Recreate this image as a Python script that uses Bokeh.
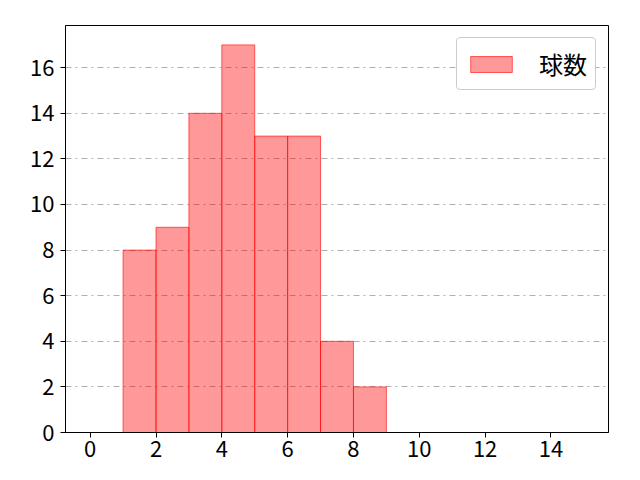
from bokeh.plotting import figure
from bokeh.models import FixedTicker, Range1d, Legend, LegendItem
from bokeh.embed import file_html
from bokeh.resources import INLINE

bin_left = [1, 2, 3, 4, 5, 6, 7, 8]
bin_right = [2, 3, 4, 5, 6, 7, 8, 9]
counts = [8, 9, 14, 17, 13, 13, 4, 2]
x_ticks = [0, 2, 4, 6, 8, 10, 12, 14]
y_ticks = [0, 2, 4, 6, 8, 10, 12, 14, 16]
label = "球数"

font = "Noto Sans CJK JP"

p = figure(width=640, height=480, output_backend="svg", toolbar_location=None,
           x_range=Range1d(-0.75, 15.75), y_range=Range1d(0, 17.85),
           min_border_left=65, min_border_right=32, min_border_top=25, min_border_bottom=48)

r = p.quad(left=bin_left, right=bin_right, bottom=0, top=counts,
           fill_color="red", fill_alpha=0.4, line_color="red", line_alpha=0.6, line_width=1)

p.xgrid.visible = False
p.ygrid.ticker = FixedTicker(ticks=y_ticks)
p.ygrid.grid_line_color = "#b0b0b0"
p.ygrid.grid_line_dash = "dashdot"
p.ygrid.grid_line_width = 1

p.xaxis.ticker = FixedTicker(ticks=x_ticks)
p.yaxis.ticker = FixedTicker(ticks=y_ticks)
for ax in (p.xaxis, p.yaxis):
    ax.major_label_text_font = font
    ax.major_label_text_font_size = "22px"
    ax.major_label_text_color = "black"
    ax.major_tick_out = 5
    ax.major_tick_in = 0
    ax.minor_tick_line_color = None
    ax.axis_line_color = "black"
    ax.major_tick_line_color = "black"
p.xaxis.major_label_standoff = 3
p.yaxis.major_label_standoff = 6

p.outline_line_color = "black"
p.outline_line_alpha = 1

legend = Legend(items=[LegendItem(label=label, renderers=[r])], location="top_right")
legend.label_text_font = font
legend.label_text_font_size = "24px"
legend.label_text_color = "black"
legend.label_height = 20
legend.glyph_width = 52
legend.glyph_height = 20
legend.label_standoff = 22
legend.padding = 8
legend.spacing = 0
legend.margin = 12
legend.border_line_color = "#cccccc"
legend.border_line_alpha = 1
legend.border_radius = 4
p.add_layout(legend)

open("out.html", "w").write(file_html(p, INLINE))
